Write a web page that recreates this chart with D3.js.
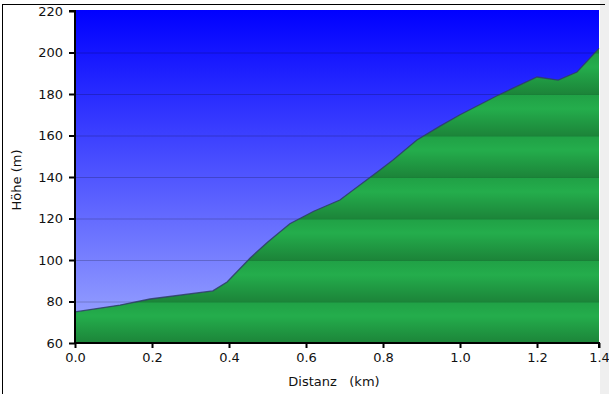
<!DOCTYPE html>
<html>
<head>
<meta charset="utf-8">
<script src="https://cdn.jsdelivr.net/npm/d3@7"></script>
<style>
  html, body { margin: 0; padding: 0; background: #fff; }
  svg { display: block; }
  text { font-family: "DejaVu Sans", Verdana, sans-serif; fill: #111; }
</style>
</head>
<body>
<svg id="chart" width="609" height="394"></svg>
<script>
// elevation profile: distance (km) / height (m)
var distanz = [0, 0.117, 0.195, 0.358, 0.395, 0.455, 0.50, 0.558, 0.62, 0.688, 0.792, 0.826, 0.888, 0.948, 1.0, 1.1, 1.2, 1.255, 1.304, 1.361];
var hoehe   = [75, 78.3, 81.2, 85.1, 89.4, 101, 108.5, 117.5, 123.5, 128.9, 143.4, 148.2, 157.8, 164.5, 170, 179.5, 188.2, 186.7, 190.6, 202];
var yTicks = [60, 80, 100, 120, 140, 160, 180, 200, 220];
var xTicks = [0, 0.2, 0.4, 0.6, 0.8, 1.0, 1.2, 1.361];

var svg = d3.select("#chart");
var pLeft = 75, pRight = 599, pTop = 11, pBottom = 343;

var x = d3.scaleLinear().domain([0, 1.361]).range([pLeft, pRight]);
var y = d3.scaleLinear().domain([60, 220]).range([pBottom, pTop]);

// right side strip + outer frame
svg.append("rect").attr("x", 600).attr("y", 0).attr("width", 9).attr("height", 394).attr("fill", "#efefef");
svg.append("line").attr("x1", 2.5).attr("x2", 2.5).attr("y1", 4).attr("y2", 394).attr("stroke", "#000");
svg.append("line").attr("x1", 2).attr("x2", 605).attr("y1", 4.5).attr("y2", 4.5).attr("stroke", "#000");

var defs = svg.append("defs");
var sky = defs.append("linearGradient").attr("id", "sky")
    .attr("x1", 0).attr("y1", 0).attr("x2", 0).attr("y2", 1);
sky.append("stop").attr("offset", "0%").attr("stop-color", "#0000ff");
sky.append("stop").attr("offset", "100%").attr("stop-color", "#a0abff");

// green bands repeat per grid step
var band = y(60) - y(80);
var pat = defs.append("pattern").attr("id", "grass")
    .attr("patternUnits", "userSpaceOnUse")
    .attr("x", 0).attr("y", y(220)).attr("width", 700).attr("height", band);
var g2 = defs.append("linearGradient").attr("id", "grassband")
    .attr("x1", 0).attr("y1", 0).attr("x2", 0).attr("y2", 1);
g2.append("stop").attr("offset", "0%").attr("stop-color", "#20a045");
g2.append("stop").attr("offset", "35%").attr("stop-color", "#24ad4c");
g2.append("stop").attr("offset", "100%").attr("stop-color", "#1c8439");
pat.append("rect").attr("width", 700).attr("height", band).attr("fill", "url(#grassband)");

svg.append("rect").attr("x", pLeft).attr("y", pTop - 1)
    .attr("width", pRight - pLeft).attr("height", pBottom - pTop + 1)
    .attr("fill", "url(#sky)");

var pts = distanz.map(function(d, i) { return [d, hoehe[i]]; });

svg.append("path").datum(pts)
    .attr("fill", "url(#grass)")
    .attr("d", d3.area().x(function(d) { return x(d[0]); }).y0(pBottom).y1(function(d) { return y(d[1]); }));

// grid lines
svg.append("g").selectAll("line").data(yTicks.slice(1, -1)).enter().append("line")
    .attr("x1", pLeft).attr("x2", pRight)
    .attr("y1", function(d) { return y(d) + 0.5; }).attr("y2", function(d) { return y(d) + 0.5; })
    .attr("stroke", "#000").attr("stroke-opacity", 0.2);

svg.append("path").datum(pts)
    .attr("fill", "none").attr("stroke", "#2e3d66").attr("stroke-width", 1.3).attr("stroke-opacity", 0.85)
    .attr("d", d3.line().x(function(d) { return x(d[0]); }).y(function(d) { return y(d[1]); }));

// axes
var yAxis = svg.append("g").attr("transform", "translate(" + pLeft + ",0)")
    .call(d3.axisLeft(y).tickValues(yTicks).tickSize(6).tickPadding(6).tickFormat(d3.format("d")));
var xAxis = svg.append("g").attr("transform", "translate(0," + pBottom + ")")
    .call(d3.axisBottom(x).tickValues(xTicks).tickSize(5).tickPadding(5).tickFormat(d3.format(".1f")));
[yAxis, xAxis].forEach(function(a) {
  a.select(".domain").attr("stroke", "#000").attr("stroke-width", 2);
  a.selectAll(".tick line").attr("stroke", "#000").attr("stroke-width", 2);
  a.selectAll("text").attr("font-size", 13).attr("fill", "#111")
    .attr("font-family", "DejaVu Sans, Verdana, sans-serif");
});
yAxis.select(".domain").attr("d", "M-6," + pTop + "H0V" + (pBottom + 1));
xAxis.select(".domain").attr("d", "M" + pLeft + ",0H" + pRight + "V5");

svg.append("text").attr("transform", "translate(21,180) rotate(-90)")
    .attr("text-anchor", "middle").attr("font-size", 13).text("Höhe (m)");
svg.append("text").attr("x", 334).attr("y", 386)
    .attr("text-anchor", "middle").attr("font-size", 13).attr("xml:space", "preserve").text("Distanz   (km)");
</script>
</body>
</html>
